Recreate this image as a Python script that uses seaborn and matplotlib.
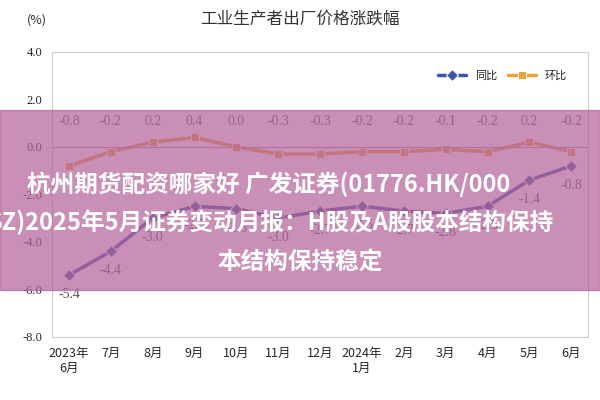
import matplotlib
matplotlib.use('Agg')
import matplotlib.pyplot as plt
import seaborn as sns
import pandas as pd
from matplotlib.patches import Rectangle

months = ['2023年\n6月', '7月', '8月', '9月', '10月', '11月', '12月', '2024年\n1月',
          '2月', '3月', '4月', '5月', '6月']
yoy = [-5.4, -4.4, -3.0, -2.5, -2.6, -3.0, -2.7, -2.5, -2.7, -2.8, -2.5, -1.4, -0.8]
mom = [-0.8, -0.2, 0.2, 0.4, 0.0, -0.3, -0.3, -0.2, -0.2, -0.1, -0.2, 0.2, -0.2]

sns.set_style("white")
plt.rcParams['font.family'] = ['Noto Sans CJK SC', 'DejaVu Sans']

df = pd.DataFrame({'x': range(len(months)), '同比': yoy, '环比': mom})
long = df.melt(id_vars='x', var_name='kind', value_name='v')

fig = plt.figure(figsize=(6, 4), dpi=100)
ax = fig.add_axes([0.087, 0.158, 0.893, 0.712])
sns.lineplot(data=long, x='x', y='v', hue='kind', style='kind',
             palette={'同比': '#3b55a8', '环比': '#e8a33a'},
             markers={'同比': 'D', '环比': 's'}, dashes=False,
             linewidth=2.5, markersize=6, ax=ax)
ax.set_xlim(-0.4, 12.4)
ax.set_ylim(-8, 4)
ax.set_yticks([-8, -6, -4, -2, 0, 2, 4])
ax.set_yticklabels([f'{t:.1f}' for t in [-8, -6, -4, -2, 0, 2, 4]], fontsize=9, family='Liberation Serif')
ax.set_xticks(range(len(months)))
ax.set_xticklabels(months, fontsize=9)
ax.axhline(0, color='#999999', lw=0.8)
ax.set_xlabel('')
ax.set_ylabel('')
for s in ax.spines.values():
    s.set_color('#cccccc')
for i, (a, b) in enumerate(zip(yoy, mom)):
    ax.text(i, a - 0.55, f'{a:.1f}', ha='center', va='top', fontsize=10,
            color='#555555', family='Liberation Serif')
    ax.text(i, 0.8, f'{b:.1f}', ha='center', va='bottom', fontsize=10,
            color='#555555', family='Liberation Serif')
ax.legend(loc='upper right', frameon=False, fontsize=8, ncol=2,
          bbox_to_anchor=(0.98, 0.97), handlelength=2.5, columnspacing=1)
fig.text(0.5, 0.94, '工业生产者出厂价格涨跌幅', ha='center', fontsize=12, color='#333333')
fig.text(0.045, 0.94, '(%)', fontsize=9, color='#333333')

# overlay banner
fig.patches.append(Rectangle((0, 0.275), 1, 0.45, transform=fig.transFigure,
                             color='#b5649a', alpha=0.72, zorder=5))
kw = dict(color='white', fontsize=17, weight='bold', zorder=6, va='center')
fig.text(0.045, 0.54, '杭州期货配资哪家好 广发证券(01776.HK/000', **kw)
fig.text(-0.02, 0.445, 'SZ)2025年5月证券变动月报：H股及A股股本结构保持', **kw)
fig.text(0.5, 0.345, '本结构保持稳定', ha='center', **kw)

fig.savefig('out.png', dpi=100)
